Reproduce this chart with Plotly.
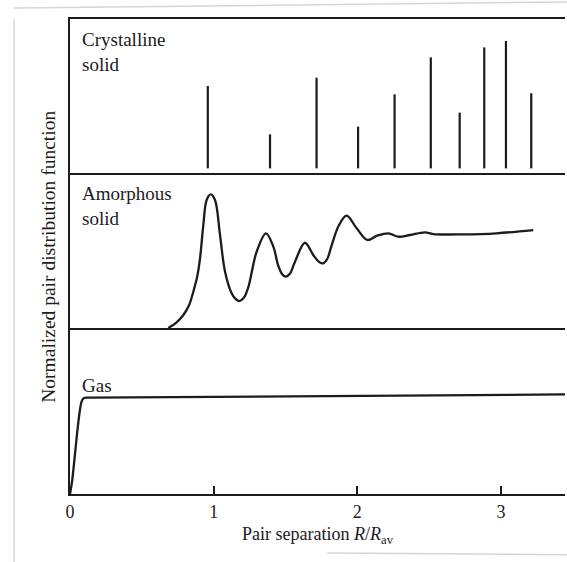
import plotly.graph_objects as go
from plotly.subplots import make_subplots

# Crystalline solid: discrete neighbour shells (R/Rav, relative height)
crystal_r = [0.959, 1.392, 1.716, 2.005, 2.259, 2.511, 2.712, 2.883, 3.034, 3.210]
crystal_h = [0.565, 0.251, 0.619, 0.301, 0.511, 0.751, 0.392, 0.816, 0.857, 0.518]
crystal_base = 0.03

# Amorphous solid: damped oscillating pair distribution
amorph_r = [0.684, 0.740, 0.789, 0.830, 0.858, 0.885, 0.905, 0.928, 0.951, 0.979,
            1.009, 1.044, 1.079, 1.125, 1.150, 1.178, 1.210, 1.240, 1.299, 1.364,
            1.415, 1.450, 1.478, 1.503, 1.530, 1.566, 1.635, 1.693, 1.735, 1.763,
            1.790, 1.820, 1.870, 1.925, 1.995, 2.069, 2.134, 2.215, 2.285, 2.366,
            2.470, 2.528, 2.737, 2.969, 3.224]
amorph_g = [0.000, 0.035, 0.084, 0.150, 0.234, 0.330, 0.450, 0.665, 0.826, 0.862,
            0.826, 0.600, 0.363, 0.224, 0.190, 0.174, 0.195, 0.260, 0.492, 0.611,
            0.525, 0.400, 0.345, 0.331, 0.350, 0.428, 0.550, 0.471, 0.425, 0.417,
            0.445, 0.530, 0.660, 0.725, 0.643, 0.568, 0.594, 0.611, 0.589, 0.600,
            0.617, 0.606, 0.604, 0.611, 0.632]

# Gas: excluded core then uniform distribution
gas_r = [0.000, 0.015, 0.030, 0.050, 0.068, 0.080, 0.092, 0.110, 0.140, 3.450]
gas_g = [0.000, 0.080, 0.200, 0.370, 0.500, 0.555, 0.574, 0.580, 0.580, 0.600]

x_ticks = [0, 1, 2, 3]
x_range = [0, 3.445]

ink = "#201a1c"
serif = "Liberation Serif, Times New Roman, serif"

fig = make_subplots(rows=3, cols=1, shared_xaxes=True, vertical_spacing=0,
                    row_heights=[154, 155, 166])

# vertical sticks for the crystal peaks
stick_x, stick_y = [], []
for r, h in zip(crystal_r, crystal_h):
    stick_x += [r, r, None]
    stick_y += [crystal_base, h, None]
fig.add_trace(go.Scatter(x=stick_x, y=stick_y, mode="lines",
                         line=dict(color=ink, width=2.2), hoverinfo="skip"),
              row=1, col=1)

fig.add_trace(go.Scatter(x=amorph_r, y=amorph_g, mode="lines",
                         line=dict(color=ink, width=2.3, shape="spline", smoothing=1.0)),
              row=2, col=1)

fig.add_trace(go.Scatter(x=gas_r, y=gas_g, mode="lines",
                         line=dict(color=ink, width=2.3, shape="spline", smoothing=0.6)),
              row=3, col=1)

axis_line = dict(showline=True, linecolor=ink, linewidth=2.2, showgrid=False,
                 zeroline=False)

for i in (1, 2, 3):
    fig.update_xaxes(range=x_range, row=i, col=1, **axis_line)
    fig.update_yaxes(range=[0, 1], row=i, col=1, showticklabels=False,
                     ticks="", **axis_line)

fig.update_xaxes(row=1, col=1, mirror=True, ticks="", showticklabels=False)
fig.update_xaxes(row=2, col=1, ticks="", showticklabels=False)
fig.update_xaxes(row=3, col=1, tickvals=x_ticks, ticktext=[str(t) for t in x_ticks],
                 ticks="inside", ticklen=8, tickwidth=1.6, tickcolor=ink,
                 showticklabels=True, tickfont=dict(family=serif, size=18, color=ink),
                 title=dict(text="Pair separation <i>R</i>/<i>R</i><sub>av</sub>",
                            font=dict(family=serif, size=18, color=ink), standoff=7))

# panel labels
labels = [("Crystalline<br>solid", "y domain", 0.95), ("Amorphous<br>solid", "y2 domain", 0.95),
          ("Gas", "y3 domain", 0.73)]
for text, yref, ypos in labels:
    fig.add_annotation(text=text, xref="x domain", yref=yref, x=0.02, y=ypos,
                       xanchor="left", yanchor="top", showarrow=False, align="left",
                       font=dict(family=serif, size=19, color=ink))

# vertical axis title spanning the three panels
fig.add_annotation(text="Normalized pair distribution function", xref="paper",
                   yref="paper", x=-0.044, y=0.5, textangle=-90, showarrow=False,
                   xanchor="center", yanchor="middle",
                   font=dict(family=serif, size=19.5, color=ink))

# faint page edges of the printed figure
edge = dict(type="line", xref="paper", yref="paper",
            line=dict(color="#d6d6d6", width=1.5))
fig.add_shape(x0=-0.113, y0=1.0, x1=-0.113, y1=-0.143, **edge)
fig.add_shape(x0=-0.113, y0=1.023, x1=1.01, y1=1.036, **edge)
fig.add_shape(x0=0.52, y0=-0.124, x1=1.01, y1=-0.128, **edge)

fig.update_layout(width=567, height=562, showlegend=False,
                  margin=dict(l=70, r=2, t=19, b=68),
                  paper_bgcolor="white", plot_bgcolor="white")

fig.write_html("out.html")
